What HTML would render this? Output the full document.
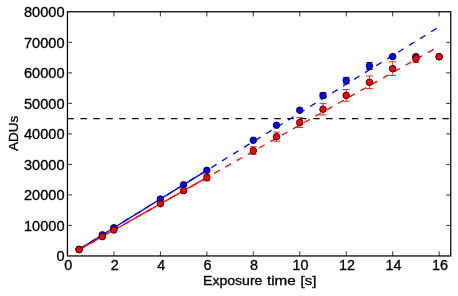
<!DOCTYPE html>
<html><head><meta charset="utf-8"><title>plot</title>
<style>html,body{margin:0;padding:0;background:#fff;overflow:hidden}svg{display:block;will-change:transform}text{font-family:"Liberation Sans",sans-serif;fill:#000;stroke:#000;stroke-width:0.3px}</style>
</head><body>
<svg width="458" height="296" viewBox="0 0 458 296">
<rect width="458" height="296" fill="#fff"/>
<line x1="67.45" y1="118.62" x2="450.75" y2="118.62" stroke="#000" stroke-width="1.32" stroke-dasharray="6.47 6.46"/>
<line x1="79.07" y1="249.26" x2="439.13" y2="26.84" stroke="#00f" stroke-width="1.32" stroke-dasharray="6.47 6.46"/>
<line x1="79.07" y1="249.26" x2="206.83" y2="170.34" stroke="#00f" stroke-width="1.32"/>
<line x1="79.07" y1="249.75" x2="439.13" y2="46.30" stroke="#f00" stroke-width="1.32" stroke-dasharray="6.47 6.46"/>
<line x1="79.07" y1="249.75" x2="206.83" y2="177.56" stroke="#f00" stroke-width="1.32"/>
<path d="M322.98 98.26V92.64M319.48 98.26h7M319.48 92.64h7" stroke="#00f" stroke-width="0.85" fill="none"/>
<path d="M346.21 83.85V77.32M342.71 83.85h7M342.71 77.32h7" stroke="#00f" stroke-width="0.85" fill="none"/>
<path d="M369.44 69.45V62.43M365.94 69.45h7M365.94 62.43h7" stroke="#00f" stroke-width="0.85" fill="none"/>
<circle cx="79.07" cy="249.26" r="3.3" fill="#00f" stroke="#000" stroke-width="0.8"/>
<circle cx="102.30" cy="234.91" r="3.3" fill="#00f" stroke="#000" stroke-width="0.8"/>
<circle cx="113.91" cy="227.74" r="3.3" fill="#00f" stroke="#000" stroke-width="0.8"/>
<circle cx="160.37" cy="199.04" r="3.3" fill="#00f" stroke="#000" stroke-width="0.8"/>
<circle cx="183.60" cy="184.69" r="3.3" fill="#00f" stroke="#000" stroke-width="0.8"/>
<circle cx="206.83" cy="170.34" r="3.3" fill="#00f" stroke="#000" stroke-width="0.8"/>
<circle cx="253.29" cy="140.28" r="3.3" fill="#00f" stroke="#000" stroke-width="0.8"/>
<circle cx="276.52" cy="125.24" r="3.3" fill="#00f" stroke="#000" stroke-width="0.8"/>
<circle cx="299.75" cy="110.19" r="3.3" fill="#00f" stroke="#000" stroke-width="0.8"/>
<circle cx="322.98" cy="95.45" r="3.3" fill="#00f" stroke="#000" stroke-width="0.8"/>
<circle cx="346.21" cy="80.59" r="3.3" fill="#00f" stroke="#000" stroke-width="0.8"/>
<circle cx="369.44" cy="65.94" r="3.3" fill="#00f" stroke="#000" stroke-width="0.8"/>
<circle cx="392.67" cy="56.57" r="3.3" fill="#00f" stroke="#000" stroke-width="0.8"/>
<circle cx="415.90" cy="56.66" r="3.3" fill="#00f" stroke="#000" stroke-width="0.8"/>
<circle cx="439.13" cy="56.72" r="3.3" fill="#00f" stroke="#000" stroke-width="0.8"/>
<path d="M206.83 180.79V174.32M203.33 180.79h7M203.33 174.32h7" stroke="#f00" stroke-width="0.85" fill="none"/>
<path d="M253.29 154.48V146.78M249.79 154.48h7M249.79 146.78h7" stroke="#f00" stroke-width="0.85" fill="none"/>
<path d="M276.52 141.23V132.14M273.02 141.23h7M273.02 132.14h7" stroke="#f00" stroke-width="0.85" fill="none"/>
<path d="M299.75 127.44V117.67M296.25 127.44h7M296.25 117.67h7" stroke="#f00" stroke-width="0.85" fill="none"/>
<path d="M322.98 114.92V103.57M319.48 114.92h7M319.48 103.57h7" stroke="#f00" stroke-width="0.85" fill="none"/>
<path d="M346.21 101.27V89.58M342.71 101.27h7M342.71 89.58h7" stroke="#f00" stroke-width="0.85" fill="none"/>
<path d="M369.44 88.59V75.95M365.94 88.59h7M365.94 75.95h7" stroke="#f00" stroke-width="0.85" fill="none"/>
<path d="M392.67 75.52V61.73M389.17 75.52h7M389.17 61.73h7" stroke="#f00" stroke-width="0.85" fill="none"/>
<path d="M415.90 62.49V54.98M412.40 62.49h7M412.40 54.98h7" stroke="#f00" stroke-width="0.85" fill="none"/>
<circle cx="79.07" cy="249.75" r="3.3" fill="#f00" stroke="#000" stroke-width="0.8"/>
<circle cx="102.30" cy="236.63" r="3.3" fill="#f00" stroke="#000" stroke-width="0.8"/>
<circle cx="113.91" cy="230.06" r="3.3" fill="#f00" stroke="#000" stroke-width="0.8"/>
<circle cx="160.37" cy="203.81" r="3.3" fill="#f00" stroke="#000" stroke-width="0.8"/>
<circle cx="183.60" cy="190.69" r="3.3" fill="#f00" stroke="#000" stroke-width="0.8"/>
<circle cx="206.83" cy="177.56" r="3.3" fill="#f00" stroke="#000" stroke-width="0.8"/>
<circle cx="253.29" cy="150.63" r="3.3" fill="#f00" stroke="#000" stroke-width="0.8"/>
<circle cx="276.52" cy="136.68" r="3.3" fill="#f00" stroke="#000" stroke-width="0.8"/>
<circle cx="299.75" cy="122.55" r="3.3" fill="#f00" stroke="#000" stroke-width="0.8"/>
<circle cx="322.98" cy="109.25" r="3.3" fill="#f00" stroke="#000" stroke-width="0.8"/>
<circle cx="346.21" cy="95.42" r="3.3" fill="#f00" stroke="#000" stroke-width="0.8"/>
<circle cx="369.44" cy="82.27" r="3.3" fill="#f00" stroke="#000" stroke-width="0.8"/>
<circle cx="392.67" cy="68.63" r="3.3" fill="#f00" stroke="#000" stroke-width="0.8"/>
<circle cx="415.90" cy="58.74" r="3.3" fill="#f00" stroke="#000" stroke-width="0.8"/>
<circle cx="439.13" cy="56.72" r="3.3" fill="#f00" stroke="#000" stroke-width="0.8"/>
<rect x="67.45" y="11.8" width="383.3" height="244.14999999999998" fill="none" stroke="#000" stroke-width="1.25"/>
<path d="M113.91 255.95v-4.6M113.91 11.8v4.6M160.37 255.95v-4.6M160.37 11.8v4.6M206.83 255.95v-4.6M206.83 11.8v4.6M253.29 255.95v-4.6M253.29 11.8v4.6M299.75 255.95v-4.6M299.75 11.8v4.6M346.21 255.95v-4.6M346.21 11.8v4.6M392.67 255.95v-4.6M392.67 11.8v4.6M439.13 255.95v-4.6M439.13 11.8v4.6M67.45 225.43h4.6M450.75 225.43h-4.6M67.45 194.91h4.6M450.75 194.91h-4.6M67.45 164.39h4.6M450.75 164.39h-4.6M67.45 133.88h4.6M450.75 133.88h-4.6M67.45 103.36h4.6M450.75 103.36h-4.6M67.45 72.84h4.6M450.75 72.84h-4.6M67.45 42.32h4.6M450.75 42.32h-4.6" stroke="#000" stroke-width="0.8" fill="none"/>
<text x="68.25" y="269.6" font-size="13.8" text-anchor="middle" textLength="8.0" lengthAdjust="spacingAndGlyphs">0</text>
<text x="114.71" y="269.6" font-size="13.8" text-anchor="middle" textLength="8.0" lengthAdjust="spacingAndGlyphs">2</text>
<text x="161.17" y="269.6" font-size="13.8" text-anchor="middle" textLength="8.0" lengthAdjust="spacingAndGlyphs">4</text>
<text x="207.63" y="269.6" font-size="13.8" text-anchor="middle" textLength="8.0" lengthAdjust="spacingAndGlyphs">6</text>
<text x="254.09" y="269.6" font-size="13.8" text-anchor="middle" textLength="8.0" lengthAdjust="spacingAndGlyphs">8</text>
<text x="300.55" y="269.6" font-size="13.8" text-anchor="middle" textLength="16.0" lengthAdjust="spacingAndGlyphs">10</text>
<text x="347.01" y="269.6" font-size="13.8" text-anchor="middle" textLength="16.0" lengthAdjust="spacingAndGlyphs">12</text>
<text x="393.47" y="269.6" font-size="13.8" text-anchor="middle" textLength="16.0" lengthAdjust="spacingAndGlyphs">14</text>
<text x="439.93" y="269.6" font-size="13.8" text-anchor="middle" textLength="16.0" lengthAdjust="spacingAndGlyphs">16</text>
<text x="64.5" y="261.20" font-size="13.8" text-anchor="end" textLength="8.1" lengthAdjust="spacingAndGlyphs">0</text>
<text x="64.5" y="230.68" font-size="13.8" text-anchor="end" textLength="40.5" lengthAdjust="spacingAndGlyphs">10000</text>
<text x="64.5" y="200.16" font-size="13.8" text-anchor="end" textLength="40.5" lengthAdjust="spacingAndGlyphs">20000</text>
<text x="64.5" y="169.64" font-size="13.8" text-anchor="end" textLength="40.5" lengthAdjust="spacingAndGlyphs">30000</text>
<text x="64.5" y="139.12" font-size="13.8" text-anchor="end" textLength="40.5" lengthAdjust="spacingAndGlyphs">40000</text>
<text x="64.5" y="108.61" font-size="13.8" text-anchor="end" textLength="40.5" lengthAdjust="spacingAndGlyphs">50000</text>
<text x="64.5" y="78.09" font-size="13.8" text-anchor="end" textLength="40.5" lengthAdjust="spacingAndGlyphs">60000</text>
<text x="64.5" y="47.57" font-size="13.8" text-anchor="end" textLength="40.5" lengthAdjust="spacingAndGlyphs">70000</text>
<text x="64.5" y="17.05" font-size="13.8" text-anchor="end" textLength="40.5" lengthAdjust="spacingAndGlyphs">80000</text>
<text x="203.0" y="285.2" font-size="13.0" textLength="59.4" lengthAdjust="spacingAndGlyphs">Exposure</text>
<text x="267.0" y="285.2" font-size="13.0" textLength="28.8" lengthAdjust="spacingAndGlyphs">time</text>
<text x="300.6" y="285.2" font-size="13.0" textLength="15.8" lengthAdjust="spacingAndGlyphs">[s]</text>
<text transform="translate(17.9 133.4) rotate(-90)" font-size="13.0" text-anchor="middle" textLength="35" lengthAdjust="spacingAndGlyphs">ADUs</text>
</svg></body></html>
